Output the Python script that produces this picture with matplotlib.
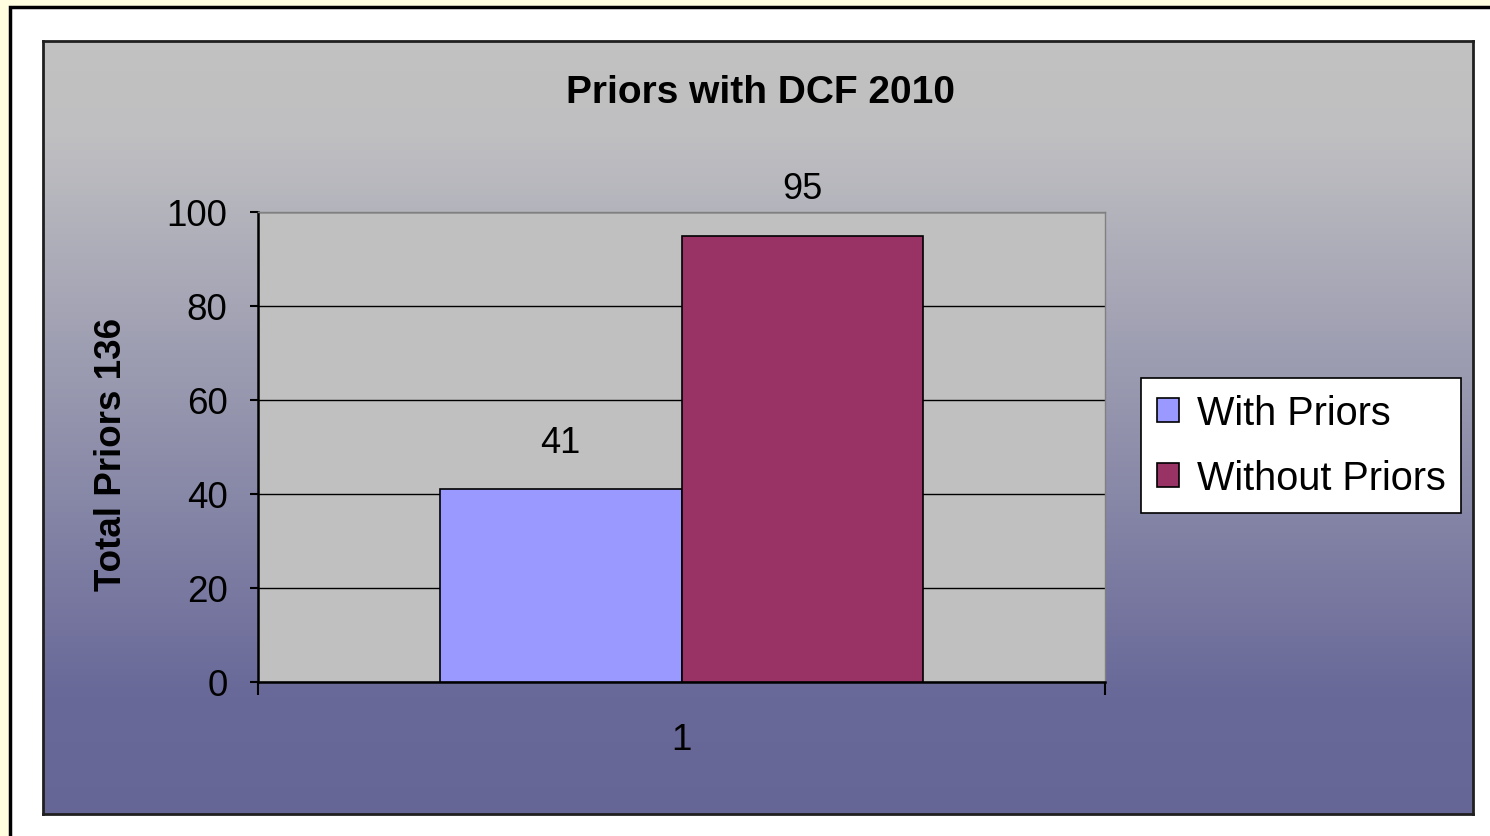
import numpy as np
import matplotlib
matplotlib.use("Agg")
import matplotlib.pyplot as plt
from matplotlib.patches import Rectangle
from matplotlib.colors import LinearSegmentedColormap

plt.rcParams['font.family'] = ['Liberation Sans', 'DejaVu Sans']

# ---- data ----
title = "Priors with DCF 2010"
ylabel = "Total Priors 136"
category_labels = ["1"]
series_names = ["With Priors", "Without Priors"]
series_values = [41, 95]
series_colors = ["#9999FF", "#993366"]
yticks = [0, 20, 40, 60, 80, 100]

W, H = 1490, 837
fig = plt.figure(figsize=(W / 100, H / 100), dpi=100)
fig.patch.set_facecolor("#FFFFE0")

def fx(x): return x / W
def fy(y): return 1 - y / H

# outer white frame with black border (extends past right/bottom edge)
frame = Rectangle((fx(10), fy(900)), fx(1600), fy(8) - fy(900),
                  transform=fig.transFigure, facecolor="white",
                  edgecolor="black", linewidth=2.5, zorder=-10)
fig.patches.append(frame)

# chart area with gradient
ca = fig.add_axes([fx(43), fy(815), fx(1473) - fx(43), fy(42) - fy(815)])
ca.set_zorder(1)
cmap = LinearSegmentedColormap.from_list(
    "g", [(0.0, (0.76, 0.76, 0.76)), (0.12, (0.75, 0.75, 0.76)),
          (0.85, (0.41, 0.41, 0.60)), (1.0, (0.40, 0.40, 0.59))])
grad = np.linspace(0, 1, 512).reshape(-1, 1)
ca.imshow(grad, aspect="auto", cmap=cmap, extent=[0, 1, 0, 1], origin="upper")
ca.set_xticks([]); ca.set_yticks([])
for s in ca.spines.values():
    s.set_linewidth(2); s.set_edgecolor("#202020")

# plot area
ax = fig.add_axes([fx(258), fy(683), fx(1105) - fx(258), fy(213) - fy(683)])
ax.set_zorder(2)
ax.set_facecolor("#C0C0C0")
n = len(series_values)
bw = 1 / 3.5
offsets = [(i - (n - 1) / 2) * bw for i in range(n)]
bars = []
for i, (name, val, col) in enumerate(zip(series_names, series_values, series_colors)):
    b = ax.bar(1 + offsets[i], val, width=bw, color=col, edgecolor="black",
               linewidth=1.2, label=name, zorder=3)
    bars.append(b)
    ax.annotate(str(val), (1 + offsets[i], val), xytext=(0, 21),
                textcoords="offset points", ha="center", va="bottom",
                fontsize=26, color="black")

ax.set_xlim(0.5, 1.5)
ax.set_ylim(0, 100)
ax.set_yticks(yticks)
ax.set_yticklabels([str(t) for t in yticks], fontsize=26.5)
ax.tick_params(axis="y", length=6, width=1.5, pad=16, colors="black")
ax.set_xticks([0.5, 1.5])
ax.set_xticklabels(["", ""])
ax.tick_params(axis="x", which="major", length=9, width=1.5)
ax.set_xticks([1], minor=True)
ax.set_xticklabels(category_labels, minor=True, fontsize=26.5)
ax.tick_params(axis="x", which="minor", length=0, pad=29)
ax.grid(axis="y", color="black", linewidth=1.0, zorder=1)
ax.set_axisbelow(True)
ax.spines["left"].set_linewidth(1.8)
ax.spines["bottom"].set_linewidth(1.8)
ax.spines["top"].set_color("#808080")
ax.spines["right"].set_color("#808080")
ax.spines["top"].set_linewidth(1)
ax.spines["right"].set_linewidth(1)

t1 = fig.text(fx(760), fy(93), title, ha="center", va="center", fontsize=28,
              fontweight="bold")
t2 = fig.text(fx(112), fy(454), ylabel, ha="center", va="center", fontsize=26.5,
              fontweight="bold", rotation=90)

leg = ax.legend(handles=[b[0] for b in bars], labels=series_names,
                loc="center left", bbox_to_anchor=(fx(1141), fy(446.5)),
                bbox_transform=fig.transFigure,
                fontsize=28.5, frameon=True, fancybox=False, framealpha=1,
                edgecolor="black", handlelength=0.56, handleheight=0.56,
                handletextpad=0.45, labelspacing=0.7, borderpad=0.4,
                borderaxespad=0)
leg.get_frame().set_linewidth(1.2)
for t in (t1, t2):
    t.set_zorder(5)

fig.savefig("out.png", dpi=100, facecolor=fig.get_facecolor())
